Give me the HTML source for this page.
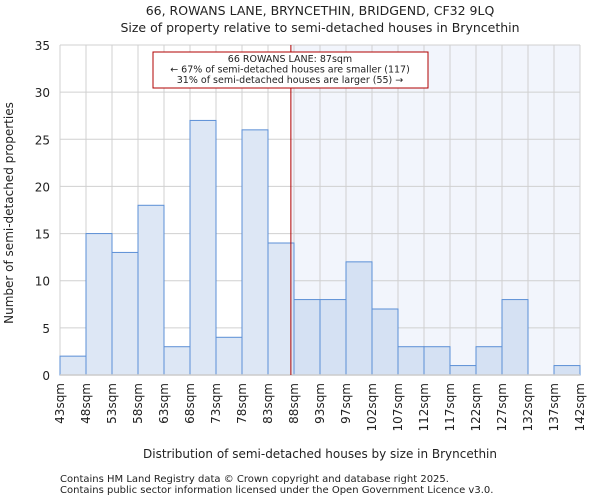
<!DOCTYPE html>
<html><head><meta charset="utf-8"><style>
body{margin:0;background:#fff;font-family:"DejaVu Sans","Liberation Sans",sans-serif;}
svg text{font-family:"DejaVu Sans","Liberation Sans",sans-serif;fill:#222;}
</style></head><body>
<svg id="c" width="600" height="500" xmlns="http://www.w3.org/2000/svg">
<text x="320" y="15" font-size="12.5" text-anchor="middle">66, ROWANS LANE, BRYNCETHIN, BRIDGEND, CF32 9LQ</text>
<text x="320" y="32" font-size="12.5" text-anchor="middle">Size of property relative to semi-detached houses in Bryncethin</text>
<g id="plot"></g>
<text x="320" y="458" font-size="12" text-anchor="middle">Distribution of semi-detached houses by size in Bryncethin</text>
<text transform="translate(13,213) rotate(-90)" font-size="12" text-anchor="middle">Number of semi-detached properties</text>
<text x="60" y="482" font-size="10">Contains HM Land Registry data © Crown copyright and database right 2025.</text>
<text x="60" y="493" font-size="10">Contains public sector information licensed under the Open Government Licence v3.0.</text>
</svg>
<script>
const labels=["43sqm","48sqm","53sqm","58sqm","63sqm","68sqm","73sqm","78sqm","83sqm","88sqm","93sqm","97sqm","102sqm","107sqm","112sqm","117sqm","122sqm","127sqm","132sqm","137sqm","142sqm"];
const counts=[2,15,13,18,3,27,4,26,14,8,8,12,7,3,3,1,3,8,0,1];
const yTicks=[0,5,10,15,20,25,30,35];
const markerBin=8.88;
const X0=60,X1=580,Y0=375,Y1=45,YMAX=35;
const bw=(X1-X0)/counts.length;
const xs=i=>X0+i*bw;
const ys=v=>Y0-(v/YMAX)*(Y0-Y1);
const NS="http://www.w3.org/2000/svg";
const g=document.getElementById('plot');
function mk(t,a){const e=document.createElementNS(NS,t);for(const k in a)e.setAttribute(k,a[k]);g.appendChild(e);return e;}
const mx=xs(markerBin);
let e=mk('rect',{x:mx,y:Y1,width:X1-mx,height:Y0-Y1,fill:'#f2f5fc'});


yTicks.forEach(t=>{
 let l=mk('line',{x1:X0,x2:X1,y1:ys(t),y2:ys(t),stroke:'#d0d0d0','stroke-width':1});
 
 
 let tx=mk('text',{x:50,y:ys(t)+5,'font-size':12,'text-anchor':'end'});tx.textContent=t;
 
 
});
labels.forEach((s,i)=>{
 let l=mk('line',{x1:xs(i),x2:xs(i),y1:Y1,y2:Y0,stroke:'#d0d0d0','stroke-width':1});
 
 
 let tx=mk('text',{transform:`translate(${xs(i)+4},383) rotate(-90)`,'font-size':12,'text-anchor':'end'});tx.textContent=s;
 
 
});
counts.forEach((v,i)=>{
 if(v<=0)return;
 const hl=xs(i)>=mx;
 let r=mk('rect',{x:xs(i),y:ys(v),width:bw,height:Y0-ys(v),fill:hl?'#d5e1f3':'#dde7f5',stroke:'#5b8fd6','stroke-width':1});
 
 
});
e=mk('line',{x1:X0,x2:X1,y1:Y0,y2:Y0,stroke:'#ccc','stroke-width':1.5});


e=mk('line',{x1:mx,x2:mx,y1:Y1,y2:Y0,stroke:'#b00000','stroke-width':1});


e=mk('rect',{x:153,y:52,width:275,height:36,fill:'#fff',stroke:'#b00000','stroke-width':1});


["66 ROWANS LANE: 87sqm","← 67% of semi-detached houses are smaller (117)","31% of semi-detached houses are larger (55) →"].forEach((s,k)=>{
 let t=mk('text',{x:290,y:62+k*10.5,'font-size':9.5,'text-anchor':'middle'});t.textContent=s;
 
 
});
</script>
</body></html>
